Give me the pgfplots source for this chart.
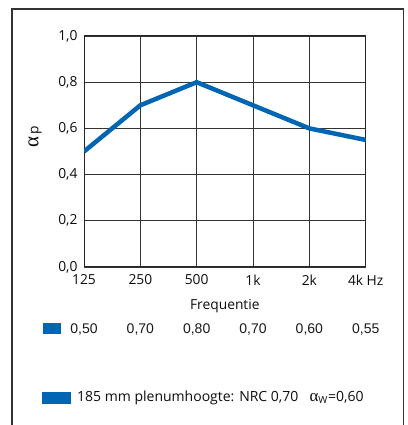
\documentclass[border=0pt]{standalone}
\usepackage{pgfplots}
\pgfplotsset{compat=1.18}
\usepackage{fontspec}
\setmainfont{Open Sans}
\newfontfamily\arialf{Liberation Sans}
\newfontfamily\serifg{Liberation Serif}
\definecolor{eblue}{RGB}{0,102,179}
\begin{document}
\begin{tikzpicture}
\useasboundingbox (0pt,0pt) rectangle (407pt,425pt);
\draw[line width=1.3pt, color=black!80] (12pt,0pt) -- (12pt,416pt) -- (403.3pt,416pt) -- (403.3pt,0pt);
\begin{axis}[
  at={(84pt,158pt)}, anchor=south west,
  scale only axis, width=281.7pt, height=231pt,
  xmin=0, xmax=5, ymin=0, ymax=1,
  xtick={0,1,2,3,4,5},
  xticklabels={125,250,500,1k,2k,4k Hz},
  ytick={0,0.2,0.4,0.6,0.8,1},
  yticklabels={{0,0},{0,2},{0,4},{0,6},{0,8},{1,0}},
  major tick length=0pt,
  grid=major,
  grid style={black!80, line width=0.8pt},
  axis line style={black!85, line width=1pt},
  tick label style={font=\fontsize{13.8}{15}\selectfont, text=black!95},
  xticklabel style={yshift=-4pt},
  yticklabel style={xshift=-3pt},
  xlabel={Frequentie},
  xlabel style={font=\fontsize{13.8}{15}\selectfont, text=black!95, yshift=-7pt},
]
\addplot[eblue, line width=4.5pt, line join=round] coordinates {
(0,0.50) (1,0.70) (2,0.80) (3,0.70) (4,0.60) (5,0.55)};
\end{axis}
\node[rotate=90, font=\fontsize{13.8}{15}\selectfont, text=black!95] at (35pt,288pt) {{\serifg\fontsize{21}{21}\selectfont α}\,p};
\fill[eblue] (43pt,91pt) rectangle (61pt,102pt);
\foreach \v [count=\i from 0] in {{0,50},{0,70},{0,80},{0,70},{0,60},{0,55}} {
  \node[font=\arialf\fontsize{14}{16}\selectfont, text=black!90] at ({84pt+56.34pt*\i},95pt) {\v};
}
\fill[eblue] (42pt,21pt) rectangle (71pt,33pt);
\node[anchor=west, inner sep=0pt, font=\fontsize{14}{16}\selectfont, text=black!95] at (77pt,27pt) {185 mm plenumhoogte: NRC 0,70\hspace{0.8em}{\serifg\fontsize{17}{17}\selectfont α}\textsubscript{W}=0,60};
\end{tikzpicture}
\end{document}
